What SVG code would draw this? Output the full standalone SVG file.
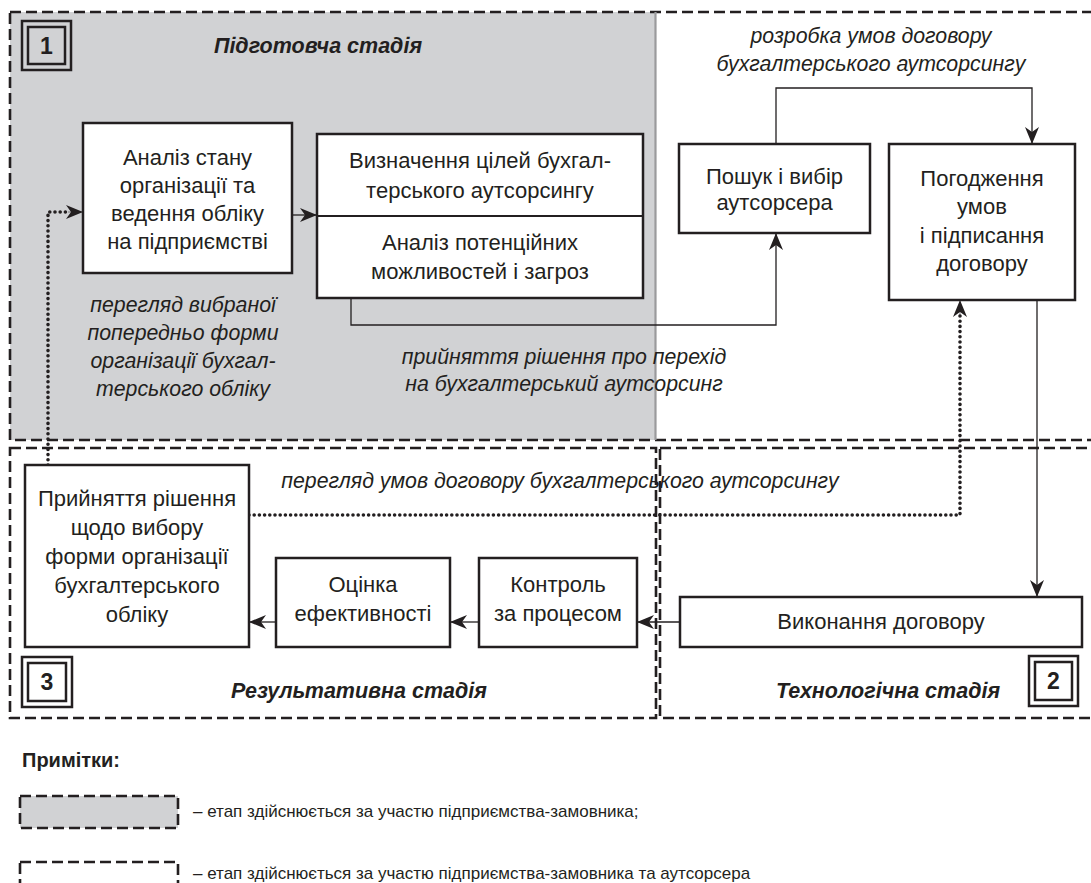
<svg xmlns="http://www.w3.org/2000/svg" width="1091" height="883" viewBox="0 0 1091 883">
<style>
.dash{fill:none;stroke:#231f20;stroke-width:2.6;stroke-dasharray:11 5}
.box{fill:#fff;stroke:#231f20;stroke-width:2.5}
.num{fill:none;stroke:#231f20;stroke-width:2.5}
.t{font-family:"Liberation Sans",Arial,sans-serif;font-size:22px;fill:#231f20;text-anchor:middle}
.i{font-family:"Liberation Sans",Arial,sans-serif;font-size:21.3px;font-style:italic;fill:#231f20;text-anchor:middle}
.h{font-family:"Liberation Sans",Arial,sans-serif;font-size:21.5px;font-style:italic;font-weight:bold;fill:#231f20;text-anchor:middle}
.n{font-family:"Liberation Sans",Arial,sans-serif;font-size:23px;font-weight:bold;fill:#231f20;text-anchor:middle}
.l{font-family:"Liberation Sans",Arial,sans-serif;font-size:17px;fill:#231f20}
.c{fill:none;stroke:#231f20;stroke-width:1.3}
.d{fill:none;stroke:#231f20;stroke-width:3.6;stroke-linecap:round;stroke-dasharray:0 5.2}
</style>
<defs>
<marker id="a" markerUnits="userSpaceOnUse" markerWidth="18" markerHeight="14" refX="17" refY="7" orient="auto">
<path d="M0,0 L17,7 L0,14 L5,7 z" fill="#231f20"/>
</marker>
</defs>
<rect width="1091" height="883" fill="#fff"/>
<g id="stage1">
<rect x="10" y="12" width="645" height="428" fill="#d1d2d4"/>
<rect class="dash" x="10" y="12" width="1090" height="428"/>
<line x1="655.5" y1="12" x2="655.5" y2="440" stroke="#9a9a9c" stroke-width="2.2"/>
<rect class="num" x="22" y="21" width="49" height="49"/>
<rect class="num" x="28" y="27" width="37" height="37"/>
<text class="n" x="46.5" y="54">1</text>
<text class="h" x="318" y="53">Підготовча стадія</text>
</g>
<g id="stage3">
<rect class="dash" x="10" y="448" width="646" height="270"/>
<rect class="num" x="22" y="657" width="50" height="50"/>
<rect class="num" x="28" y="663" width="38" height="38"/>
<text class="n" x="47" y="690">3</text>
<text class="h" x="359" y="698">Результативна стадія</text>
</g>
<g id="stage2">
<rect class="dash" x="660" y="448" width="440" height="270"/>
<rect class="num" x="1029" y="656" width="49" height="50"/>
<rect class="num" x="1035" y="662" width="37" height="38"/>
<text class="n" x="1053.5" y="689">2</text>
<text class="h" x="888" y="698">Технологічна стадія</text>
</g>
<g id="connectors">
<path class="c" d="M292,215 H317" marker-end="url(#a)"/>
<path class="c" d="M351,298 V325 H776 V233" marker-end="url(#a)"/>
<path class="c" d="M776,144 V88 H1032 V144" marker-end="url(#a)"/>
<path class="c" d="M1037,300 V597" marker-end="url(#a)"/>
<path class="c" d="M680,622 H637" marker-end="url(#a)"/>
<path class="c" d="M479,622 H450" marker-end="url(#a)"/>
<path class="c" d="M276,622 H249" marker-end="url(#a)"/>
<path class="d" d="M48,465 V212 H68"/>
<path d="M68,212 H83" fill="none" stroke="#231f20" stroke-width="0.5" marker-end="url(#a)"/>
<path class="d" d="M249,515 H960 V316"/>
<path d="M960,316 V300" fill="none" stroke="#231f20" stroke-width="0.5" marker-end="url(#a)"/>
<text class="i" x="871" y="43">розробка умов договору</text>
<text class="i" x="871" y="71">бухгалтерського аутсорсингу</text>
<text class="i" x="183" y="312">перегляд вибраної</text>
<text class="i" x="183" y="340">попередньо форми</text>
<text class="i" x="183" y="368">організації бухгал-</text>
<text class="i" x="183" y="396">терського обліку</text>
<text class="i" x="564" y="364">прийняття рішення про перехід</text>
<text class="i" x="564" y="391">на бухгалтерський аутсорсинг</text>
<text class="i" x="560" y="488">перегляд умов договору бухгалтерського аутсорсингу</text>
</g>
<g id="n-analiz">
<rect class="box" x="83" y="123" width="209" height="150"/>
<text class="t" x="187.5" y="165">Аналіз стану</text>
<text class="t" x="187.5" y="193">організації та</text>
<text class="t" x="187.5" y="221">ведення обліку</text>
<text class="t" x="187.5" y="249">на підприємстві</text>
</g>
<g id="n-vyznach">
<rect class="box" x="317" y="134" width="326" height="164"/>
<line x1="317" y1="216" x2="643" y2="216" stroke="#231f20" stroke-width="2"/>
<text class="t" x="480" y="168">Визначення цілей бухгал-</text>
<text class="t" x="480" y="198">терського аутсорсингу</text>
<text class="t" x="480" y="250">Аналіз потенційних</text>
<text class="t" x="480" y="279">можливостей і загроз</text>
</g>
<g id="n-poshuk">
<rect class="box" x="679" y="144" width="191" height="89"/>
<text class="t" x="774.5" y="184">Пошук і вибір</text>
<text class="t" x="774.5" y="210">аутсорсера</text>
</g>
<g id="n-pogodzh">
<rect class="box" x="889" y="144" width="186" height="156"/>
<text class="t" x="982" y="186">Погодження</text>
<text class="t" x="982" y="214">умов</text>
<text class="t" x="982" y="243">і підписання</text>
<text class="t" x="982" y="271">договору</text>
</g>
<g id="n-vykon">
<rect class="box" x="680" y="597" width="402" height="50"/>
<text class="t" x="881" y="629">Виконання договору</text>
</g>
<g id="n-kontrol">
<rect class="box" x="479" y="558" width="158" height="89"/>
<text class="t" x="558" y="592">Контроль</text>
<text class="t" x="558" y="621">за процесом</text>
</g>
<g id="n-otsinka">
<rect class="box" x="276" y="558" width="174" height="89"/>
<text class="t" x="363" y="592">Оцінка</text>
<text class="t" x="363" y="621">ефективності</text>
</g>
<g id="n-pryin">
<rect class="box" x="25" y="465" width="224" height="182"/>
<text class="t" x="137" y="506">Прийняття рішення</text>
<text class="t" x="137" y="535">щодо вибору</text>
<text class="t" x="137" y="564">форми організації</text>
<text class="t" x="137" y="593">бухгалтерського</text>
<text class="t" x="137" y="622">обліку</text>
</g>
<g id="legend">
<text class="l" x="22" y="767" font-weight="bold" style="font-size:20px">Примітки:</text>
<rect class="dash" x="20" y="796" width="158" height="32" style="fill:#d1d2d4"/>
<text class="l" x="193" y="817">– етап здійснюється за участю підприємства-замовника;</text>
<rect class="dash" x="20" y="862" width="158" height="32"/>
<text class="l" x="193" y="879">– етап здійснюється за участю підприємства-замовника та аутсорсера</text>
</g>
</svg>
